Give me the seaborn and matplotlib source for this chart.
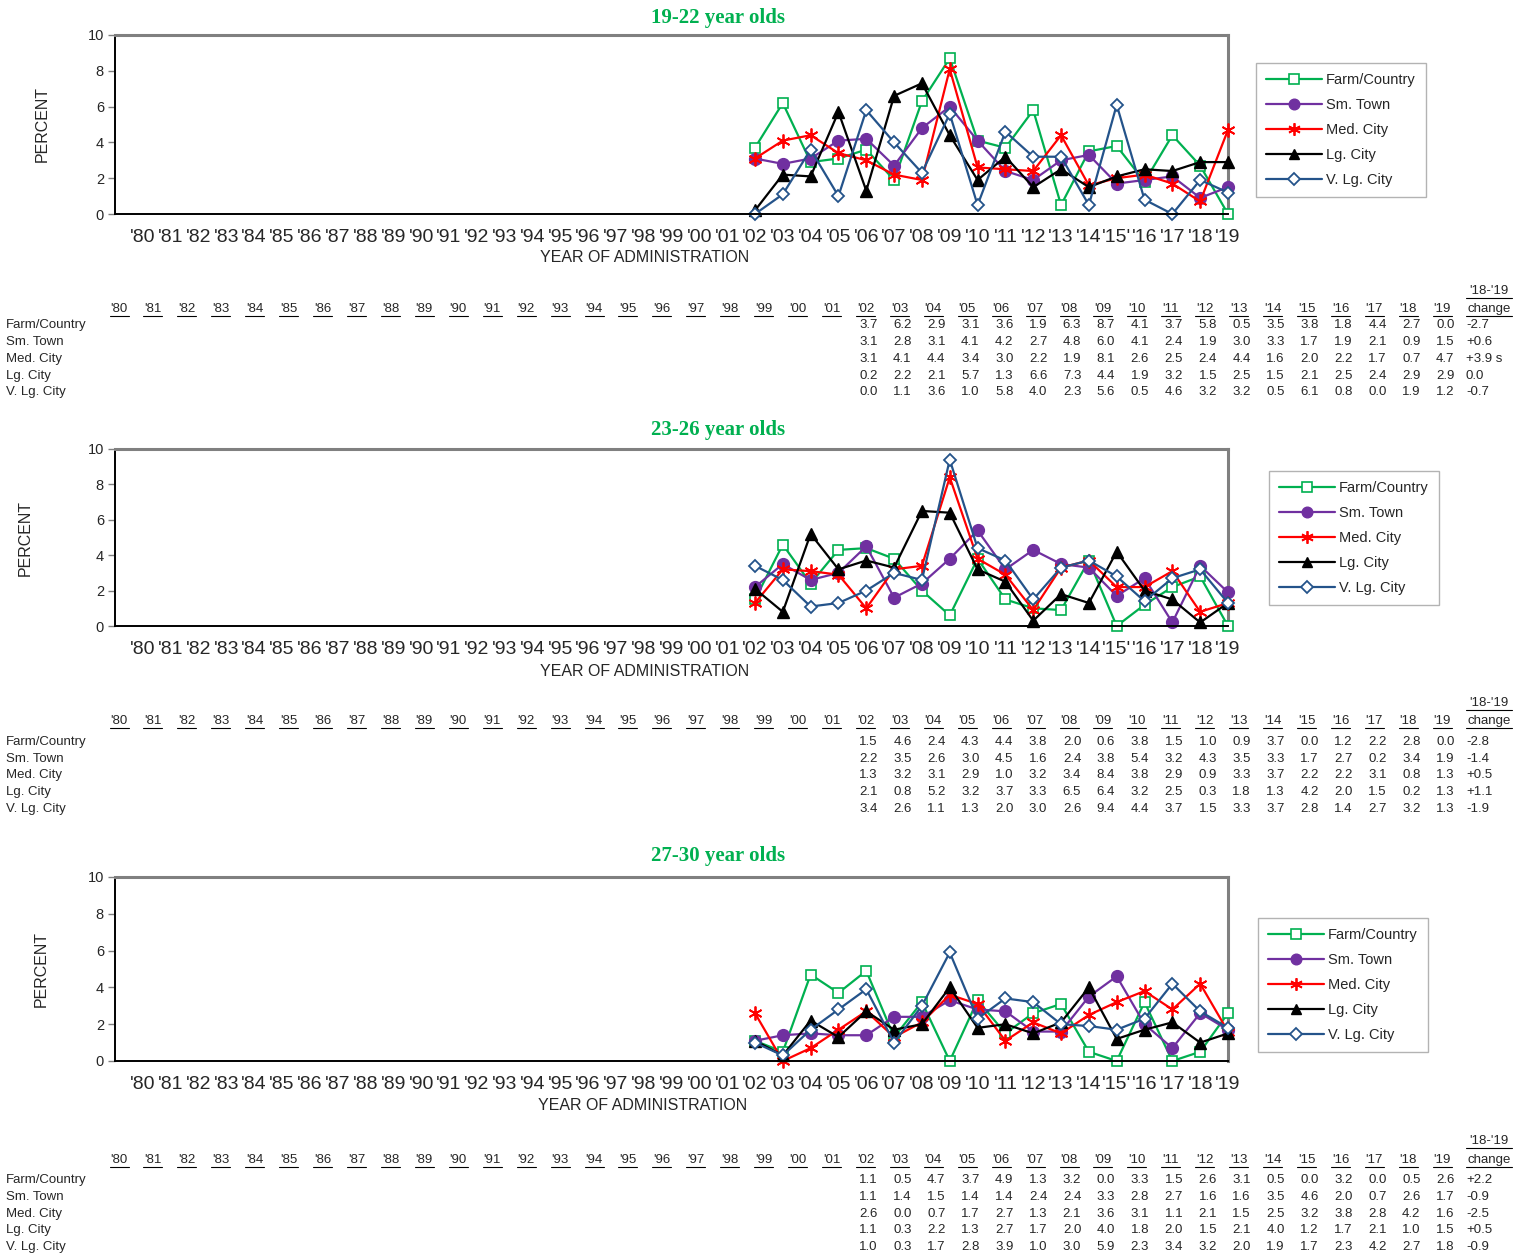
import numpy as np
import pandas as pd
import matplotlib
matplotlib.use("Agg")
import matplotlib.pyplot as plt
from matplotlib.lines import Line2D
import seaborn as sns

sns.set_style("white")
plt.rcParams['font.family'] = ['Liberation Sans', 'DejaVu Sans']

# ---- data ----
all_years = ["'80", "'81", "'82", "'83", "'84", "'85", "'86", "'87", "'88", "'89",
             "'90", "'91", "'92", "'93", "'94", "'95", "'96", "'97", "'98", "'99",
             "'00", "'01", "'02", "'03", "'04", "'05", "'06", "'07", "'08", "'09",
             "'10", "'11", "'12", "'13", "'14", "'15", "'16", "'17", "'18", "'19"]
# axis labels (the source chart has a stray quote at '15)
axis_labels = list(all_years)
axis_labels[35] = "'15'"
data_years = all_years[22:]   # '02 .. '19

series_names = ["Farm/Country", "Sm. Town", "Med. City", "Lg. City", "V. Lg. City"]

# 19-22 year olds
age1_farm = [3.7, 6.2, 2.9, 3.1, 3.6, 1.9, 6.3, 8.7, 4.1, 3.7, 5.8, 0.5, 3.5, 3.8, 1.8, 4.4, 2.7, 0.0]
age1_smtown = [3.1, 2.8, 3.1, 4.1, 4.2, 2.7, 4.8, 6.0, 4.1, 2.4, 1.9, 3.0, 3.3, 1.7, 1.9, 2.1, 0.9, 1.5]
age1_medcity = [3.1, 4.1, 4.4, 3.4, 3.0, 2.2, 1.9, 8.1, 2.6, 2.5, 2.4, 4.4, 1.6, 2.0, 2.2, 1.7, 0.7, 4.7]
age1_lgcity = [0.2, 2.2, 2.1, 5.7, 1.3, 6.6, 7.3, 4.4, 1.9, 3.2, 1.5, 2.5, 1.5, 2.1, 2.5, 2.4, 2.9, 2.9]
age1_vlgcity = [0.0, 1.1, 3.6, 1.0, 5.8, 4.0, 2.3, 5.6, 0.5, 4.6, 3.2, 3.2, 0.5, 6.1, 0.8, 0.0, 1.9, 1.2]
age1_change = ["-2.7", "+0.6", "+3.9 s", "0.0", "-0.7"]

# 23-26 year olds
age2_farm = [1.5, 4.6, 2.4, 4.3, 4.4, 3.8, 2.0, 0.6, 3.8, 1.5, 1.0, 0.9, 3.7, 0.0, 1.2, 2.2, 2.8, 0.0]
age2_smtown = [2.2, 3.5, 2.6, 3.0, 4.5, 1.6, 2.4, 3.8, 5.4, 3.2, 4.3, 3.5, 3.3, 1.7, 2.7, 0.2, 3.4, 1.9]
age2_medcity = [1.3, 3.2, 3.1, 2.9, 1.0, 3.2, 3.4, 8.4, 3.8, 2.9, 0.9, 3.3, 3.7, 2.2, 2.2, 3.1, 0.8, 1.3]
age2_lgcity = [2.1, 0.8, 5.2, 3.2, 3.7, 3.3, 6.5, 6.4, 3.2, 2.5, 0.3, 1.8, 1.3, 4.2, 2.0, 1.5, 0.2, 1.3]
age2_vlgcity = [3.4, 2.6, 1.1, 1.3, 2.0, 3.0, 2.6, 9.4, 4.4, 3.7, 1.5, 3.3, 3.7, 2.8, 1.4, 2.7, 3.2, 1.3]
age2_change = ["-2.8", "-1.4", "+0.5", "+1.1", "-1.9"]

# 27-30 year olds
age3_farm = [1.1, 0.5, 4.7, 3.7, 4.9, 1.3, 3.2, 0.0, 3.3, 1.5, 2.6, 3.1, 0.5, 0.0, 3.2, 0.0, 0.5, 2.6]
age3_smtown = [1.1, 1.4, 1.5, 1.4, 1.4, 2.4, 2.4, 3.3, 2.8, 2.7, 1.6, 1.6, 3.5, 4.6, 2.0, 0.7, 2.6, 1.7]
age3_medcity = [2.6, 0.0, 0.7, 1.7, 2.7, 1.3, 2.1, 3.6, 3.1, 1.1, 2.1, 1.5, 2.5, 3.2, 3.8, 2.8, 4.2, 1.6]
age3_lgcity = [1.1, 0.3, 2.2, 1.3, 2.7, 1.7, 2.0, 4.0, 1.8, 2.0, 1.5, 2.1, 4.0, 1.2, 1.7, 2.1, 1.0, 1.5]
age3_vlgcity = [1.0, 0.3, 1.7, 2.8, 3.9, 1.0, 3.0, 5.9, 2.3, 3.4, 3.2, 2.0, 1.9, 1.7, 2.3, 4.2, 2.7, 1.8]
age3_change = ["+2.2", "-0.9", "-2.5", "+0.5", "-0.9"]

panels = [
    ("19-22 year olds", [age1_farm, age1_smtown, age1_medcity, age1_lgcity, age1_vlgcity], age1_change),
    ("23-26 year olds", [age2_farm, age2_smtown, age2_medcity, age2_lgcity, age2_vlgcity], age2_change),
    ("27-30 year olds", [age3_farm, age3_smtown, age3_medcity, age3_lgcity, age3_vlgcity], age3_change),
]

# ---- styles ----
styles = [
    dict(color="#00B050", marker="s", markersize=7.5, markerfacecolor="white", markeredgewidth=1.2),
    dict(color="#7030A0", marker="o", markersize=8.5, markerfacecolor="#7030A0", markeredgewidth=1.0),
    dict(color="#FF0000", marker=(6, 2, 0), markersize=10, markerfacecolor="#FF0000", markeredgewidth=1.3),
    dict(color="#000000", marker="^", markersize=8.5, markerfacecolor="#000000", markeredgewidth=1.0),
    dict(color="#24538A", marker="D", markersize=6.5, markerfacecolor="white", markeredgewidth=1.3),
]

W, H = 1531, 1259
fig = plt.figure(figsize=(W / 100, H / 100), dpi=100)


def fx(px):
    return px / W


def fy(py):
    return 1 - py / H


# layout in pixels (top, bottom of axes etc.)
layout = [
    dict(ax_top=35, ax_bot=214, title_y=18, ylab_x=42, xlab=(645, 258), leg=(1256, 63),
         tab_top=291, tab_head=309, rows=[325, 342, 359, 376, 392]),
    dict(ax_top=449, ax_bot=626, title_y=430, ylab_x=25, xlab=(645, 671), leg=(1269, 471),
         tab_top=703, tab_head=721, rows=[742, 759, 775, 792, 809]),
    dict(ax_top=877, ax_bot=1061, title_y=856, ylab_x=41, xlab=(643, 1105), leg=(1258, 918),
         tab_top=1141, tab_head=1160, rows=[1180, 1197, 1214, 1230, 1247]),
]

ax_left, ax_right = 115, 1228
pos_all = np.arange(len(all_years))
pos_data = pos_all[22:]


def underline(xc, y, width):
    fig.add_artist(Line2D([fx(xc - width / 2), fx(xc + width / 2)], [fy(y), fy(y)],
                          transform=fig.transFigure, color="black", lw=0.8))


for (title, vals, change), lay in zip(panels, layout):
    ax = fig.add_axes([fx(ax_left), fy(lay["ax_bot"]), fx(ax_right - ax_left),
                       (lay["ax_bot"] - lay["ax_top"]) / H])
    df = pd.DataFrame({"pos": np.tile(pos_data, 5),
                       "value": np.concatenate(vals),
                       "series": np.repeat(series_names, len(pos_data))})
    for name, st in zip(series_names, styles):
        sub = df[df["series"] == name]
        sns.lineplot(data=sub, x="pos", y="value", ax=ax, sort=False, lw=1.6,
                     color=st["color"], marker=st["marker"], markersize=st["markersize"],
                     markerfacecolor=st["markerfacecolor"], markeredgecolor=st["color"],
                     markeredgewidth=st["markeredgewidth"], label=name, legend=False,
                     clip_on=False, zorder=3)

    ax.set_xlim(-1, 39)
    ax.set_ylim(0, 10)
    ax.set_yticks([0, 2, 4, 6, 8, 10])
    ax.set_yticklabels(["0", "2", "4", "6", "8", "10"], fontsize=10.5)
    ax.set_xticks(np.arange(-1, 40))
    ax.set_xticklabels([""] + axis_labels, fontsize=14)
    ax.tick_params(axis="x", length=5, width=1, color="#808080", pad=6, direction="out")
    ax.tick_params(axis="y", length=5, width=1, color="#808080", pad=3, direction="out",
                   left=True)
    ax.set_xlabel("")
    ax.set_ylabel("")
    for s in ["top", "right"]:
        ax.spines[s].set_color("#808080")
        ax.spines[s].set_linewidth(2.2)
    for s in ["left", "bottom"]:
        ax.spines[s].set_color("black")
        ax.spines[s].set_linewidth(1.4)
    ax.spines["bottom"].set_zorder(4)

    fig.text(fx(718), fy(lay["title_y"]), title, ha="center", va="center",
             fontsize=15, fontweight="bold", color="#00B050", family="Liberation Serif")
    fig.text(fx(lay["ylab_x"]), fy((lay["ax_top"] + lay["ax_bot"]) / 2), "PERCENT",
             rotation=90, ha="center", va="center", fontsize=11.5)
    fig.text(fx(lay["xlab"][0]), fy(lay["xlab"][1]), "YEAR OF ADMINISTRATION",
             ha="center", va="center", fontsize=11.5)

    handles = [Line2D([0], [0], color=st["color"], lw=1.6, marker=st["marker"],
                      markersize=st["markersize"] * 0.9, markerfacecolor=st["markerfacecolor"],
                      markeredgecolor=st["color"], markeredgewidth=st["markeredgewidth"])
               for st in styles]
    leg = fig.legend(handles, series_names, loc="upper left",
                     bbox_to_anchor=(fx(lay["leg"][0]), fy(lay["leg"][1])),
                     fontsize=10.5, frameon=True, fancybox=False, handlelength=3.8,
                     labelspacing=0.75, borderpad=0.7, handletextpad=0.3,
                     borderaxespad=0, edgecolor="#A0A0A0")
    leg.get_frame().set_linewidth(1.0)

    # ---- data table ----
    col_x = [119 + i * 33.93 for i in range(len(all_years))]
    for yr, cx in zip(all_years, col_x):
        fig.text(fx(cx), fy(lay["tab_head"]), yr, ha="center", va="center", fontsize=9.5)
        underline(cx, lay["tab_head"] + 6.5, 19)
    fig.text(fx(1489), fy(lay["tab_head"]), "change", ha="center", va="center", fontsize=9.5)
    underline(1489, lay["tab_head"] + 6.5, 46)
    fig.text(fx(1489), fy(lay["tab_top"]), "'18-'19", ha="center", va="center", fontsize=9.5)
    underline(1489, lay["tab_top"] + 6.5, 46)

    for name, v, ch, ry in zip(series_names, vals, change, lay["rows"]):
        fig.text(fx(6), fy(ry), name, ha="left", va="center", fontsize=9.5)
        for val, cx in zip(v, col_x[22:]):
            fig.text(fx(cx + 3), fy(ry), f"{val:.1f}", ha="center", va="center", fontsize=9.5)
        fig.text(fx(1466), fy(ry), ch, ha="left", va="center", fontsize=9.5)

fig.savefig("out.png", dpi=100)
